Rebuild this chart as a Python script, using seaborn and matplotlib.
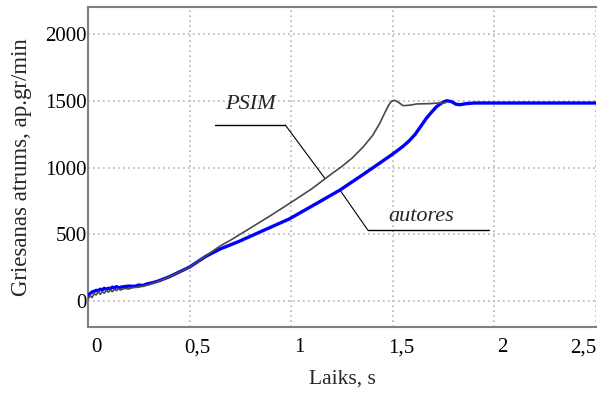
import numpy as np
import pandas as pd
import matplotlib
matplotlib.use("Agg")
import matplotlib.pyplot as plt
import matplotlib.transforms as mtransforms
import seaborn as sns

# Rotor speed during start-up: PSIM simulation vs. the author's model
t_psim = [0.00, 0.01, 0.02, 0.03, 0.04, 0.05, 0.06, 0.07, 0.08, 0.09, 0.10,
          0.11, 0.12, 0.13, 0.14, 0.15, 0.16, 0.18, 0.20, 0.22, 0.25, 0.30,
          0.35, 0.40, 0.45, 0.50, 0.55, 0.60, 0.65, 0.70, 0.80, 0.90, 1.00,
          1.10, 1.20, 1.25, 1.30, 1.355, 1.40, 1.436, 1.46, 1.48, 1.495,
          1.51, 1.53, 1.55, 1.58, 1.62, 1.68, 1.73, 1.76]
n_psim = [15, 40, 25, 55, 45, 70, 50, 72, 58, 80, 66,
          84, 70, 88, 78, 92, 82, 94, 90, 100, 104, 122,
          150, 182, 216, 255, 305, 360, 412, 455, 548, 642, 740,
          840, 955, 1010, 1072, 1157, 1240, 1333, 1410, 1470, 1500,
          1505, 1488, 1465, 1468, 1478, 1480, 1485, 1487]

t_aut = [0.00, 0.01, 0.02, 0.03, 0.04, 0.05, 0.06, 0.07, 0.08, 0.09, 0.10,
         0.11, 0.12, 0.13, 0.14, 0.15, 0.17, 0.20, 0.23, 0.25, 0.27, 0.29,
         0.32, 0.35, 0.40, 0.45, 0.50, 0.54, 0.58, 0.65, 0.74, 0.85, 0.99,
         1.10, 1.24, 1.35, 1.42, 1.49, 1.52, 1.55, 1.58, 1.61, 1.64, 1.665,
         1.69, 1.715, 1.745, 1.765, 1.79, 1.81, 1.83, 1.86, 1.90, 2.00,
         2.20, 2.40, 2.50]
n_aut = [40, 55, 68, 72, 80, 78, 88, 84, 95, 88, 96,
         92, 104, 98, 108, 100, 106, 112, 110, 120, 116, 128,
         138, 152, 182, 218, 255, 295, 335, 390, 445, 520, 615,
         710, 832, 945, 1018, 1092, 1125, 1160, 1200, 1250, 1315, 1370,
         1415, 1457, 1490, 1502, 1495, 1476, 1472, 1480, 1485, 1485,
         1485, 1485, 1485]

x_ticks = [0, 0.5, 1, 1.5, 2, 2.5]
x_tick_labels = ["0", "0,5", "1", "1,5", "2", "2,5"]
y_ticks = [0, 500, 1000, 1500, 2000]
y_tick_labels = ["0", "500", "1000", "1500", "2000"]

df = pd.concat([
    pd.DataFrame({"t": t_psim, "n": n_psim, "modelis": "PSIM"}),
    pd.DataFrame({"t": t_aut, "n": n_aut, "modelis": "autores"}),
])

sns.set_style("white")
plt.rcParams["font.family"] = ["Liberation Serif", "DejaVu Serif"]

fig = plt.figure(figsize=(6, 4.01), dpi=100)
ax = fig.add_axes([88 / 600, 1 - 327 / 401, (596 - 88) / 600, (327 - 7) / 401])

sns.lineplot(data=df[df.modelis == "autores"], x="t", y="n", color="#0000ff",
             linewidth=2.4, ax=ax, legend=False, zorder=3)
sns.lineplot(data=df[df.modelis == "PSIM"], x="t", y="n", color="#4a4a4a",
             linewidth=1.2, ax=ax, legend=False, zorder=4)

ax.set_xlim(0, 2.5)
ax.set_ylim(-195, 2205)
ax.set_xticks(x_ticks)
ax.set_xticklabels(x_tick_labels)
ax.set_yticks(y_ticks)
ax.set_yticklabels(y_tick_labels)
ax.tick_params(axis="both", length=0, labelsize=15, colors="black")
ax.tick_params(axis="y", pad=1)
ax.tick_params(axis="x", pad=8)

# shift x tick labels slightly right; keep the last one inside the frame
shift = mtransforms.ScaledTranslation(8 / 100, 0, fig.dpi_scale_trans)
labels = ax.get_xticklabels()
for lab in labels[:-1]:
    lab.set_transform(lab.get_transform() + shift)
labels[-1].set_horizontalalignment("right")

ax.grid(True, color="#b4b4b4", linestyle=(0, (1, 2)), linewidth=1.2)
for side in ("left", "bottom", "top"):
    ax.spines[side].set_color("#808080")
    ax.spines[side].set_linewidth(1.5)
ax.spines["right"].set_visible(False)

ax.set_xlabel("Laiks, s", fontsize=15.5, labelpad=9)
ax.set_ylabel("Griesanas atrums, ap.gr/min", fontsize=16.5, labelpad=9)

# curve labels with underline and leader line
psim_label = (0.80, 1477)
psim_line = ([0.627, 0.971], 1320)
psim_t = 1.167
aut_label = (1.64, 637)
aut_line = ([1.377, 1.975], 532)
aut_t = 1.24

ax.text(*psim_label, "PSIM", style="italic", fontsize=16, ha="center", va="center")
ax.plot(psim_line[0], [psim_line[1]] * 2, color="black", lw=1.0)
ax.plot([psim_line[0][1], psim_t], [psim_line[1], np.interp(psim_t, t_psim, n_psim)],
        color="black", lw=0.8)

ax.text(*aut_label, "autores", style="italic", fontsize=16, ha="center", va="center")
ax.plot(aut_line[0], [aut_line[1]] * 2, color="black", lw=1.0)
ax.plot([aut_line[0][0], aut_t], [aut_line[1], np.interp(aut_t, t_aut, n_aut)],
        color="black", lw=0.8)

fig.savefig("out.png", dpi=100)
